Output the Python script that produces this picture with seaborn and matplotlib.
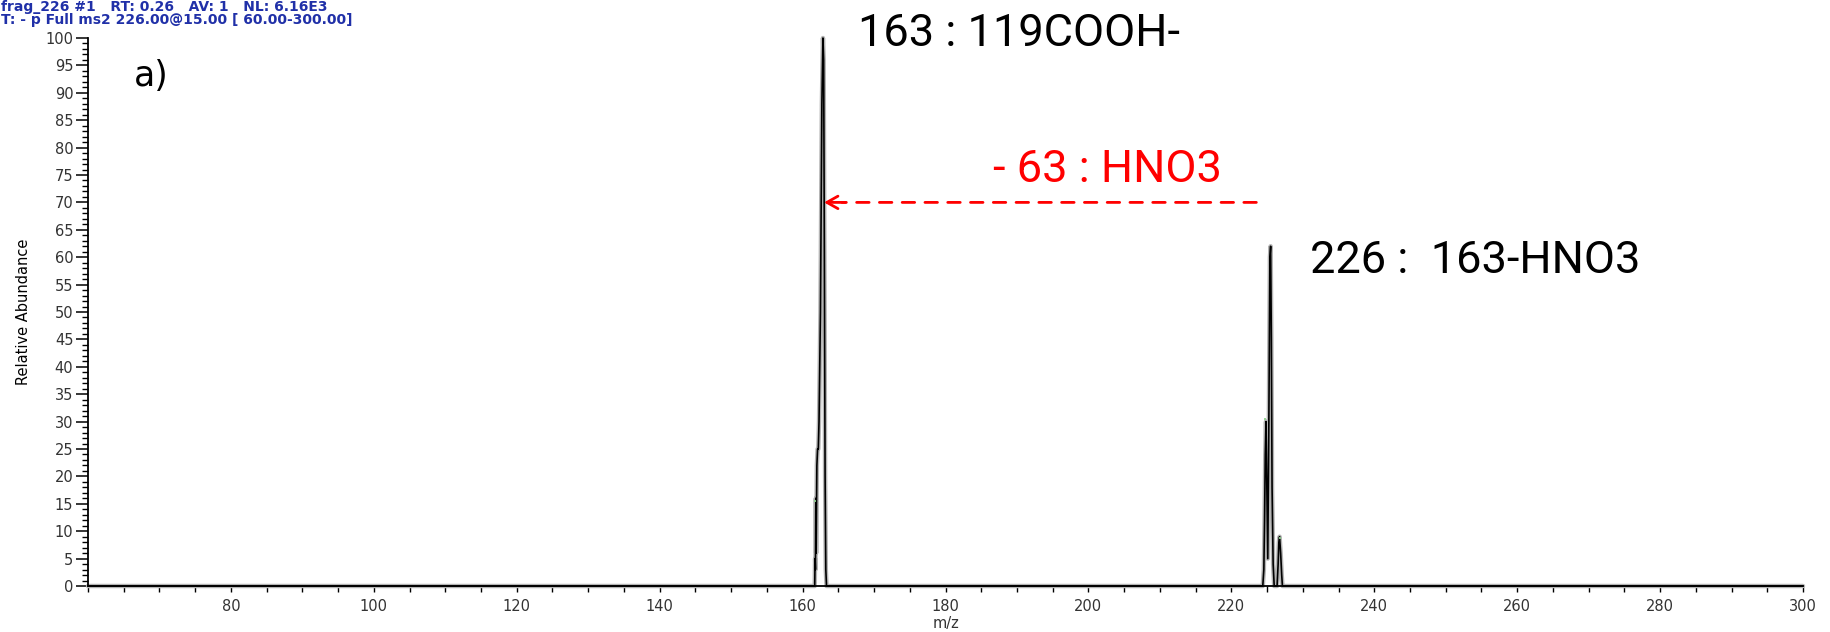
import matplotlib
matplotlib.use("Agg")
import matplotlib.pyplot as plt
from matplotlib.ticker import MultipleLocator, FixedLocator
import seaborn as sns
import pandas as pd

# ---- data ----
mz = [60.0, 161.70, 161.75, 161.80, 161.85, 161.90, 162.00, 162.10, 162.20, 162.30,
      162.50, 162.70, 162.85, 162.95, 163.05, 163.15, 163.25, 163.35,
      224.40, 224.55, 224.65, 224.75, 224.85, 224.95, 225.10, 225.25, 225.40,
      225.50, 225.60, 225.70, 225.85, 226.00, 226.40, 226.55, 226.65, 226.75,
      226.90, 227.05, 227.15, 227.30, 300.0]
intensity = [0, 0, 5, 3, 16, 6, 22, 25, 25, 30,
             50, 88, 100, 96, 60, 20, 3, 0,
             0, 3, 12, 24, 30, 20, 5, 30, 60,
             62, 45, 18, 4, 0, 0, 4, 8, 9,
             6, 2, 0, 0, 0]

green_x0 = [161.65, 224.62, 226.70]
green_x1 = [161.90, 224.80, 227.00]
green_y = [15.5, 30.5, 8.7]

x_major = [80, 100, 120, 140, 160, 180, 200, 220, 240, 260, 280, 300]
y_major = list(range(0, 101, 5))

header1 = "frag_226 #1   RT: 0.26   AV: 1   NL: 6.16E3"
header2 = "T: - p Full ms2 226.00@15.00 [ 60.00-300.00]"
label_a = "a)"
ann_163 = "163 : 119COOH-"
ann_loss = "- 63 : HNO3"
ann_226 = "226 :  163-HNO3"

df = pd.DataFrame({"mz": mz, "ab": intensity})

sns.set_style("ticks")
plt.rcParams["font.family"] = ["DejaVu Sans"]

W, H = 1830, 632
fig = plt.figure(figsize=(W / 100, H / 100), dpi=100)
L, R, T, B = 88, 1803, 38, 586
ax = fig.add_axes([L / W, (H - B) / H, (R - L) / W, (B - T) / H])

sns.lineplot(data=df, x="mz", y="ab", ax=ax, color="#b4b4b4", lw=3.2,
             estimator=None, sort=False, clip_on=False)
sns.lineplot(data=df, x="mz", y="ab", ax=ax, color="black", lw=1.2,
             estimator=None, sort=False, clip_on=False)
ax.hlines(green_y, green_x0, green_x1, color="#8fd18f", lw=1.3)

ax.set_xlim(60, 300)
ax.set_ylim(0, 100)
ax.xaxis.set_major_locator(FixedLocator(x_major))
ax.xaxis.set_minor_locator(MultipleLocator(5))
ax.yaxis.set_major_locator(FixedLocator(y_major))
ax.yaxis.set_minor_locator(MultipleLocator(1))
ax.set_xticklabels([str(v) for v in x_major])
ax.set_yticklabels([str(v) for v in y_major])

for s in ["top", "right"]:
    ax.spines[s].set_visible(False)
for s in ["left", "bottom"]:
    ax.spines[s].set_color("black")
    ax.spines[s].set_linewidth(1.3)

ax.tick_params(axis="y", which="major", direction="out", length=8.5, width=1.1,
               color="black", labelsize=10.5, labelcolor="#333333", pad=2)
ax.tick_params(axis="y", which="minor", direction="out", length=4.3, width=1.0, color="black")
ax.tick_params(axis="x", which="both", direction="out", length=4.5, width=1.0,
               color="black", labelsize=10.5, labelcolor="#333333", pad=5)

ax.set_xlabel("m/z", fontsize=10.5, color="#333333")
ax.set_ylabel("Relative Abundance", fontsize=10.5, color="black",
              family=["Liberation Sans Narrow", "DejaVu Sans"])
ax.xaxis.set_label_coords(0.5, -0.055)
ax.yaxis.set_label_coords((31 - L) / (R - L), 0.5)

# header lines (blue)
fig.text(1 / W, 1 - 7 / H, header1, color="#2030a8", fontsize=10, fontweight="bold",
         ha="left", va="center")
fig.text(1 / W, 1 - 20 / H, header2, color="#2030a8", fontsize=10, fontweight="bold",
         ha="left", va="center")

ax.text(0.027, 0.913, label_a, transform=ax.transAxes, fontsize=25, color="black",
        ha="left", va="baseline")

ann_font = ["Roboto", "DejaVu Sans"]
ax.text(167.7, 98.6, ann_163, fontsize=32.5, family=ann_font, color="black",
        ha="left", va="baseline")
ax.text(186.6, 73.8, ann_loss, fontsize=32.5, family=ann_font, color="red",
        ha="left", va="baseline")
ax.text(231.0, 57.1, ann_226, fontsize=32.5, family=ann_font, color="black",
        ha="left", va="baseline")

# dashed arrow 226 -> 163
ax.annotate("", xy=(165.5, 70), xytext=(223.5, 70),
            arrowprops=dict(arrowstyle="-", color="red", lw=2,
                            linestyle=(0, (4.5, 3.7)), shrinkA=0, shrinkB=0))
ax.annotate("", xy=(163.0, 70), xytext=(166.0, 70),
            arrowprops=dict(arrowstyle="->,head_length=0.8,head_width=0.45", color="red",
                            lw=2, shrinkA=0, shrinkB=0))

fig.savefig("out.png", dpi=100)
